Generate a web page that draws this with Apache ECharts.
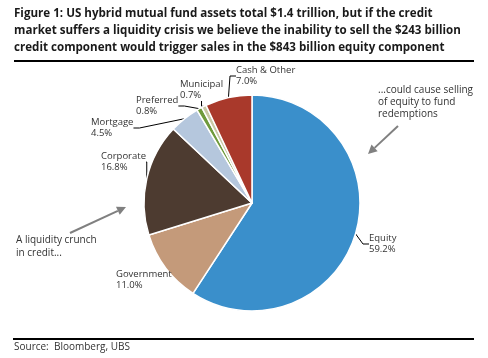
<!DOCTYPE html>
<html><head><meta charset="utf-8">
<script src="https://cdn.jsdelivr.net/npm/echarts@6/dist/echarts.min.js"></script>
<style>html,body{margin:0;padding:0;background:#fff}#c{width:488px;height:358px}</style>
</head><body><div id="c"></div>
<script>
const categories = ['Equity','Government','Corporate','Mortgage','Preferred','Municipal','Cash & Other'];
const values = [59.2, 11.0, 16.8, 4.5, 0.8, 0.7, 7.0];
const colors = ['#3a8fcb','#c49a7a','#4d3b30','#b5c7dd','#6f9a3c','#c9c9a6','#a9392b'];
const titleLines = [
  'Figure 1: US hybrid mutual fund assets total $1.4 trillion, but if the credit',
  'market suffers a liquidity crisis we believe the inability to sell the $243 billion',
  'credit component would trigger sales in the $843 billion equity component'
];
const sourceText = 'Source:  Bloomberg, UBS';
const noteRight = ['...could cause selling','of equity to fund','redemptions'];
const noteLeft = ['A liquidity crunch','in credit...'];

const FONT = 'Open Sans';
// label anchor positions (top-left) per slice
const labelPos = [[369,233],[116,269],[101,151],[91,117],[136,95],[180,79],[236,65]];

const chart = echarts.init(document.getElementById('c'), null, {renderer:'canvas'});

function arrow(x1,y1,x2,y2){
  const a = Math.atan2(y2-y1,x2-x1), L=9, W=4.5;
  const bx = x2 - L*Math.cos(a), by = y2 - L*Math.sin(a);
  const px = -Math.sin(a)*W, py = Math.cos(a)*W;
  return [
    {type:'line', shape:{x1:x1,y1:y1,x2:bx,y2:by}, style:{stroke:'#808080', lineWidth:2}},
    {type:'polygon', shape:{points:[[x2,y2],[bx+px,by+py],[bx-px,by-py]]}, style:{fill:'#808080'}}
  ];
}

const graphics = [];
titleLines.forEach((t,i)=>graphics.push({type:'text', left:14, top:8+i*17,
  style:{text:t, font:'bold 11.6px "'+FONT+'"', fill:'#1a1a1a'}}));
graphics.push({type:'line', shape:{x1:14,y1:61,x2:474,y2:61}, style:{stroke:'#000', lineWidth:2}});
graphics.push({type:'line', shape:{x1:13,y1:339,x2:474,y2:339}, style:{stroke:'#000', lineWidth:2}});
graphics.push({type:'text', left:14, top:342, style:{text:sourceText, font:'10px "'+FONT+'"', fill:'#333'}});
noteRight.forEach((t,i)=>graphics.push({type:'text', left:378, top:85+i*12,
  style:{text:t, font:'10px "'+FONT+'"', fill:'#333'}}));
noteLeft.forEach((t,i)=>graphics.push({type:'text', left:16, top:235+i*13,
  style:{text:t, font:'10px "'+FONT+'"', fill:'#333'}}));
arrow(398,126,368,154).forEach(g=>graphics.push(g));
arrow(70,233,126,207).forEach(g=>graphics.push(g));

chart.setOption({
  animation:false,
  graphic: graphics,
  series:[{
    type:'pie',
    center:[252,203],
    radius:[0,108],
    startAngle:90,
    clockwise:true,
    avoidLabelOverlap:false,
    itemStyle:{borderColor:'#fff', borderWidth:1.5},
    label:{
      show:true, position:'outside', align:'left',
      fontFamily:FONT, fontSize:9.5, color:'#333', lineHeight:11,
      formatter: p => p.name + '\n' + p.value.toFixed(1) + '%'
    },
    labelLine:{show:true, length:8, length2:6, lineStyle:{color:'#000', width:1}},
    labelLayout: p => ({x:labelPos[p.dataIndex][0], y:labelPos[p.dataIndex][1], align:'left', verticalAlign:'top'}),
    data: categories.map((c,i)=>({name:c, value:values[i], itemStyle:{color:colors[i]},
      labelLine:{show: c!=='Government'}}))
  }]
});
</script></body></html>
